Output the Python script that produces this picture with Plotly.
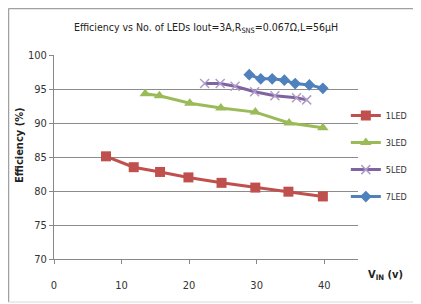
import plotly.graph_objects as go

x_1led = [7.7, 11.8, 15.7, 19.9, 24.8, 29.8, 34.7, 39.8]
y_1led = [85.1, 83.5, 82.8, 82.0, 81.2, 80.5, 79.9, 79.2]
x_3led = [13.5, 15.6, 20.1, 24.7, 29.8, 34.8, 39.8]
y_3led = [94.3, 94.0, 92.9, 92.2, 91.6, 90.0, 89.3]
x_5led = [22.3, 24.6, 26.8, 29.7, 32.7, 35.9, 37.4]
y_5led = [95.8, 95.8, 95.4, 94.6, 94.0, 93.7, 93.4]
x_7led = [28.9, 30.6, 32.3, 34.1, 35.7, 37.8, 39.8]
y_7led = [97.1, 96.5, 96.5, 96.3, 95.8, 95.6, 95.1]

series_names = ["1LED", "3LED", "5LED", "7LED"]
colors = ["#C0504D", "#9BBB59", "#8064A2", "#4F81BD"]
symbols = ["square", "triangle-up", "x-thin", "diamond"]
sizes = [10, 10, 9, 9]

FONT = "DejaVu Sans Condensed, Liberation Sans Narrow, Roboto, sans-serif"

fig = go.Figure()
for name, xs, ys, c, s, sz in zip(series_names,
                                   [x_1led, x_3led, x_5led, x_7led],
                                   [y_1led, y_3led, y_5led, y_7led],
                                   colors, symbols, sizes):
    marker = dict(symbol=s, size=sz, color=c)
    if s == "x-thin":
        marker["line"] = dict(color="#B09CC8", width=1.5)
    fig.add_trace(go.Scatter(x=xs, y=ys, name=name, legendgroup=name,
                             mode="lines+markers",
                             line=dict(color=c, width=3), marker=marker))

fig.update_layout(
    width=421, height=304,
    margin=dict(l=46, r=71, t=47, b=53, autoexpand=False),
    paper_bgcolor="white", plot_bgcolor="white",
    font=dict(family=FONT, size=11, color="#333333"),
    showlegend=True,
    legend=dict(x=0.96, y=0.774, xanchor="left", yanchor="top",
                font=dict(size=9, color="#333"), tracegroupgap=8,
                itemwidth=30, bgcolor="rgba(0,0,0,0)"),
    xaxis=dict(range=[0, 45], tick0=0, dtick=10, showgrid=False,
               showline=True, linecolor="#888888", linewidth=1,
               ticks="outside", ticklen=4, tickcolor="#888888",
               ticklabelstandoff=12, zeroline=False),
    yaxis=dict(range=[70, 100], dtick=5, showgrid=True, gridcolor="#8c8c8c",
               gridwidth=1, showline=True, linecolor="#888888", linewidth=1,
               ticks="outside", ticklen=4, tickcolor="#888888", zeroline=False),
    annotations=[
        dict(text="Efficiency vs No. of LEDs Iout=3A,R<sub>SNS</sub>=0.067Ω,L=56µH",
             x=0.5, y=1.13, xref="paper", yref="paper", showarrow=False,
             xanchor="center", yanchor="middle",
             font=dict(size=10.5, color="#222")),
        dict(text="<b>Efficiency (%)</b>", textangle=-90,
             x=-0.112, y=0.559, xref="paper", yref="paper", showarrow=False,
             xanchor="center", yanchor="middle",
             font=dict(size=11, color="#222")),
        dict(text="<b>V<sub>IN</sub> (v)</b>",
             x=1.092, y=-0.078, xref="paper", yref="paper", showarrow=False,
             xanchor="center", yanchor="middle",
             font=dict(size=11, color="#222")),
    ],
    shapes=[
        dict(type="line", xref="paper", yref="paper",
             x0=-0.1497, x1=1.3, y0=1.228, y1=1.228,
             line=dict(color="#A0A0A0", width=1.5)),
        dict(type="line", xref="paper", yref="paper",
             x0=-0.1497, x1=-0.1497, y0=-0.211, y1=1.228,
             line=dict(color="#A0A0A0", width=1.5)),
        dict(type="line", xref="paper", yref="paper",
             x0=-0.1497, x1=1.3, y0=-0.211, y1=-0.211,
             line=dict(color="#D9D9D9", width=1)),
    ],
)

fig.write_html("out.html")
